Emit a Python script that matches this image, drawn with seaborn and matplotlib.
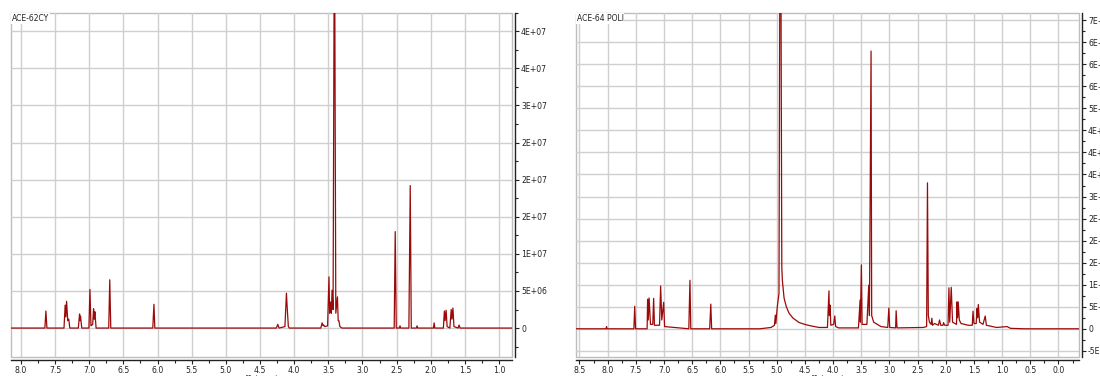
import matplotlib
matplotlib.use("Agg")
import matplotlib.pyplot as plt
from matplotlib.ticker import MultipleLocator, FuncFormatter
from matplotlib.patches import Rectangle
import seaborn as sns
import pandas as pd

# ---------------- data (intensities in units of 1e6) ----------------
title_left = "ACE-62CY"
title_right = "ACE-64 POLI"
x_label = "f1 (ppm)"

left_ppm = [8.15, 7.65, 7.635, 7.62, 7.37, 7.353, 7.343, 7.332, 7.315, 7.30, 7.285,
            7.16, 7.142, 7.135, 7.128, 7.11, 7.005, 6.99, 6.975, 6.95, 6.937, 6.928,
            6.918, 6.90, 6.715, 6.70, 6.685, 6.07, 6.053, 6.04, 4.26, 4.24, 4.22,
            4.135, 4.113, 4.10, 4.085, 4.07, 3.61, 3.59, 3.575, 3.567, 3.55, 3.51,
            3.49, 3.48, 3.465, 3.455, 3.445, 3.43, 3.415, 3.405, 3.39, 3.366, 3.355,
            3.345, 3.33, 3.30, 2.535, 2.52, 2.505, 2.46, 2.45, 2.44, 2.32, 2.30,
            2.285, 2.21, 2.20, 2.19, 1.96, 1.95, 1.94, 1.815, 1.80, 1.79, 1.775,
            1.76, 1.72, 1.70, 1.69, 1.675, 1.66, 1.60, 1.585, 1.57, 0.80]
left_int = [0, 0, 2.3, 0, 0, 3.1, 1.5, 3.6, 1.0, 1.2, 0,
            0, 1.9, 1.0, 1.6, 0, 0, 5.2, 0.3, 0.5, 2.6, 1.2,
            2.2, 0, 0, 6.5, 0, 0, 3.2, 0, 0, 0.5, 0,
            0.2, 4.7, 2.5, 0.2, 0, 0, 0.7, 0.3, 0.4, 0.2, 0.3,
            6.9, 2.0, 3.5, 2.0, 5.1, 2.5, 45.0, 45.0, 2.0, 4.2, 1.0,
            1.0, 0.2, 0, 0, 13.0, 0, 0, 0.3, 0, 0, 19.2,
            0, 0, 0.3, 0, 0, 0.7, 0, 0, 2.3, 1.0, 2.4,
            0.2, 0, 2.5, 1.2, 2.7, 0.2, 0, 0.4, 0, 0]

right_ppm = [8.56, 8.03, 8.02, 8.01, 7.535, 7.52, 7.505, 7.30, 7.291, 7.28, 7.265,
             7.24, 7.20, 7.184, 7.17, 7.08, 7.06, 7.04, 7.006, 6.99, 6.56, 6.54,
             6.525, 6.19, 6.17, 6.155, 5.30, 5.10, 5.04, 5.025, 5.015, 4.99, 4.96,
             4.945, 4.925, 4.91, 4.90, 4.87, 4.83, 4.78, 4.71, 4.60, 4.50, 4.41,
             4.25, 4.10, 4.073, 4.065, 4.055, 4.04, 3.99, 3.97, 3.955, 3.90, 3.55,
             3.521, 3.515, 3.498, 3.485, 3.40, 3.367, 3.355, 3.326, 3.315, 3.28,
             3.15, 3.03, 3.011, 2.995, 2.89, 2.881, 2.865, 2.40, 2.34, 2.325, 2.31,
             2.29, 2.26, 2.247, 2.235, 2.20, 2.13, 2.111, 2.09, 2.05, 2.04, 2.02,
             1.96, 1.944, 1.93, 1.903, 1.88, 1.81, 1.802, 1.79, 1.779, 1.76, 1.73,
             1.60, 1.53, 1.517, 1.50, 1.46, 1.446, 1.435, 1.423, 1.40, 1.34, 1.30,
             1.28, 1.10, 0.913, 0.85, 0.60, -0.36]
right_int = [0, 0, 0.5, 0, 0, 5.1, 0, 0, 6.7, 2.0, 7.0,
             1.0, 1.0, 6.9, 0.8, 0.8, 9.7, 2.0, 6.0, 0.5, 0, 11.0,
             0, 0, 5.6, 0, 0, 0.3, 0.8, 3.1, 1.2, 5.0, 8.0,
             80.0, 80.0, 14.0, 11.0, 7.0, 5.0, 3.5, 2.4, 1.4, 1.0, 0.7,
             0.3, 0.3, 8.6, 3.0, 5.4, 0.8, 1.0, 2.9, 0.5, 0.2, 0.2,
             6.5, 1.5, 14.5, 1.0, 1.0, 9.9, 3.0, 63.0, 3.0, 1.5,
             0.5, 0.3, 4.7, 0.3, 0.2, 4.1, 0.2, 0.3, 0.5, 33.1, 3.0,
             1.5, 1.0, 2.4, 0.8, 1.2, 0.8, 2.0, 0.8, 0.8, 1.4, 0.8,
             0.8, 9.3, 1.5, 9.4, 1.5, 1.0, 6.1, 2.5, 6.1, 2.0, 1.2,
             0.8, 0.8, 4.0, 1.2, 1.2, 4.6, 2.5, 5.5, 1.5, 1.0, 2.9,
             0.8, 0.3, 0.5, 0.1, 0, 0]

SCALE = 1e6
line_color = "#9b0a0a"
grid_color = "#cfcfcf"

plt.rcParams['font.family'] = ['DejaVu Sans']

fig = plt.figure(figsize=(11, 3.76), dpi=100)
H = 376.0
W = 1100.0
ax1 = fig.add_axes([11 / W, 19 / H, 501 / W, 344.3 / H])
ax2 = fig.add_axes([576 / W, 19 / H, 503 / W, 344.3 / H])


def yfmt(v, p):
    if abs(v) < 1:
        return "0"
    return "%.0E" % v


def xfmt(v, p):
    if abs(v) < 1e-9:
        v = 0.0
    return "%.1f" % v


def style(ax, xlim, ylim, title):
    ax.set_xlim(*xlim)
    ax.set_ylim(*ylim)
    ax.set_facecolor("white")
    ax.xaxis.set_major_locator(MultipleLocator(0.5))
    ax.xaxis.set_minor_locator(MultipleLocator(0.25))
    ax.yaxis.set_major_locator(MultipleLocator(5e6))
    ax.yaxis.set_minor_locator(MultipleLocator(2.5e6))
    ax.xaxis.set_major_formatter(FuncFormatter(xfmt))
    ax.yaxis.set_major_formatter(FuncFormatter(yfmt))
    ax.yaxis.tick_right()
    ax.grid(True, which="major", color=grid_color, lw=1.0)
    ax.set_axisbelow(True)
    for s in ["left", "top"]:
        ax.spines[s].set_visible(False)
    for s in ["right", "bottom"]:
        ax.spines[s].set_color("#222222")
        ax.spines[s].set_linewidth(1.0)
        ax.spines[s].set_position(("outward", 2.5))
    ax.add_patch(Rectangle((0, 0), 1, 1, transform=ax.transAxes, fill=False,
                           edgecolor="#bdbdbd", lw=1.0, zorder=0.5, clip_on=False))
    ax.tick_params(axis="both", which="major", length=3, width=0.8, direction="out",
                   labelsize=5.6, colors="#222222", pad=1)
    ax.tick_params(axis="both", which="minor", length=2, width=0.8, direction="out",
                   colors="#222222")
    ax.set_xlabel(x_label, fontsize=5.5, labelpad=0, color="#333333")
    ax.set_ylabel("")
    ax.text(0.001, 0.997, title, transform=ax.transAxes, ha="left", va="top",
            fontsize=5.5, color="#222222",
            bbox=dict(facecolor="white", edgecolor="none", pad=0.6))


df1 = pd.DataFrame({"ppm": left_ppm, "intensity": [v * SCALE for v in left_int]})
df2 = pd.DataFrame({"ppm": right_ppm, "intensity": [v * SCALE for v in right_int]})

sns.lineplot(data=df1, x="ppm", y="intensity", ax=ax1, sort=False, estimator=None,
             color=line_color, lw=0.9)
sns.lineplot(data=df2, x="ppm", y="intensity", ax=ax2, sort=False, estimator=None,
             color=line_color, lw=0.9)

style(ax1, (8.146, 0.81), (-3.9e6, 4.25e7), title_left)
style(ax2, (8.562, -0.364), (-6.4e6, 7.17e7), title_right)

fig.savefig("out.png", dpi=100)
